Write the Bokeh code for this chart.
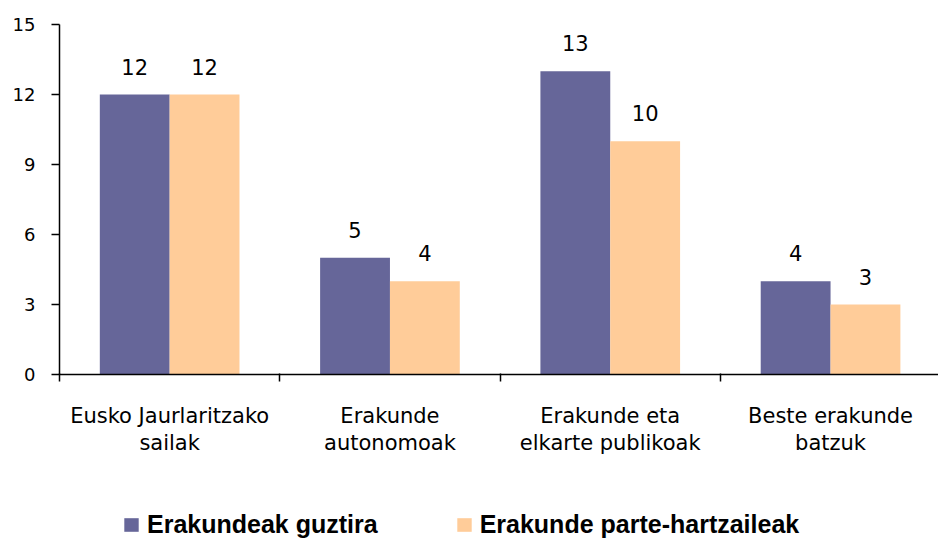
from bokeh.plotting import figure
from bokeh.models import (Range1d, FixedTicker, LinearAxis, Legend, LegendItem,
                          ColumnDataSource)
from bokeh.layouts import column
from bokeh.core.properties import value
from bokeh.embed import file_html
from bokeh.resources import INLINE

categories_line1 = ["Eusko Jaurlaritzako", "Erakunde", "Erakunde eta", "Beste erakunde"]
categories_line2 = ["sailak", "autonomoak", "elkarte publikoak", "batzuk"]
series_names = ["Erakundeak guztira", "Erakunde parte-hartzaileak"]
total = [12, 5, 13, 4]
participating = [12, 4, 10, 3]
y_ticks = [0, 3, 6, 9, 12, 15]

COL1 = "#666699"
COL2 = "#FFCC99"
LABEL_FONT = "DejaVu Sans"

n = len(categories_line1)
centers = [i + 0.5 for i in range(n)]
bw = 0.317

p = figure(frame_width=879, frame_height=350, output_backend="svg", toolbar_location=None,
           x_range=Range1d(0, 3.99), y_range=Range1d(0, 15),
           min_border_left=59, min_border_top=24, min_border_right=0, min_border_bottom=100,
           x_axis_location=None, y_axis_location=None)
p.outline_line_color = None
p.xgrid.visible = False
p.ygrid.visible = False
p.background_fill_color = "white"
p.border_fill_color = "white"

src1 = ColumnDataSource(dict(x=[c - bw / 2 for c in centers], top=total,
                             lab=[str(v) for v in total]))
src2 = ColumnDataSource(dict(x=[c + bw / 2 for c in centers], top=participating,
                             lab=[str(v) for v in participating]))

r1 = p.vbar(x="x", top="top", width=bw, source=src1, fill_color=COL1, line_color=None)
r2 = p.vbar(x="x", top="top", width=bw, source=src2, fill_color=COL2, line_color=None)

for s in (src1, src2):
    p.text(x="x", y="top", text="lab", source=s, text_align="center",
           text_baseline="alphabetic", y_offset=-28, text_font=value(LABEL_FONT),
           text_font_size="21px", text_color="black")

# y axis
ya = LinearAxis(ticker=FixedTicker(ticks=y_ticks, minor_ticks=[]))
ya.axis_line_width = 1.5
ya.axis_line_color = "black"
ya.major_tick_out = 8
ya.major_tick_in = 0
ya.major_tick_line_width = 1.5
ya.major_label_standoff = 16
ya.major_label_text_font = LABEL_FONT
ya.major_label_text_font_size = "18px"
ya.major_label_text_color = "black"
p.add_layout(ya, "left")

# x axis: line 1 labels, boundary ticks as minor ticks
xa = LinearAxis(ticker=FixedTicker(ticks=centers, minor_ticks=[0, 1, 2, 3, 4]))
xa.major_label_overrides = {c: t for c, t in zip(centers, categories_line1)}
xa.axis_line_width = 1.5
xa.axis_line_color = "black"
xa.major_tick_out = 0
xa.major_tick_in = 0
xa.minor_tick_out = 7
xa.minor_tick_in = 1
xa.minor_tick_line_width = 1.5
xa.minor_tick_line_color = "black"
xa.major_label_standoff = 22
xa.major_label_text_font = LABEL_FONT
xa.major_label_text_font_size = "21px"
xa.major_label_text_color = "black"
p.add_layout(xa, "below")

# second line of category labels
xa2 = LinearAxis(ticker=FixedTicker(ticks=centers, minor_ticks=[]))
xa2.major_label_overrides = {c: t for c, t in zip(centers, categories_line2)}
xa2.axis_line_color = None
xa2.major_tick_line_color = None
xa2.major_tick_out = 0
xa2.major_tick_in = 0
xa2.major_label_standoff = 0
xa2.major_label_text_font = LABEL_FONT
xa2.major_label_text_font_size = "21px"
xa2.major_label_text_color = "black"
p.add_layout(xa2, "below")

# legend strip (separate figure so the legend is not clipped)
q = figure(width=938, height=66, output_backend="svg", toolbar_location=None,
           x_range=Range1d(0, 1), y_range=Range1d(0, 1),
           min_border_left=0, min_border_right=0, min_border_top=0, min_border_bottom=0,
           x_axis_location=None, y_axis_location=None)
q.outline_line_color = None
q.xgrid.visible = False
q.ygrid.visible = False
off = dict(x=[10], top=[1])  # lies outside the strip's ranges; only the legend shows
l1 = q.vbar(x="x", top="top", width=0.1, source=ColumnDataSource(off),
            fill_color=COL1, line_color=None)
l2 = q.vbar(x="x", top="top", width=0.1, source=ColumnDataSource(off),
            fill_color=COL2, line_color=None)

legend = Legend(items=[LegendItem(label=series_names[0], renderers=[l1]),
                       LegendItem(label=series_names[1], renderers=[l2])],
                orientation="horizontal", location=(63, 1))
legend.label_text_font = "Liberation Sans"
legend.label_text_font_style = "bold"
legend.label_text_font_size = "25px"
legend.label_text_color = "black"
legend.glyph_width = 18
legend.glyph_height = 17
legend.label_standoff = 7
legend.spacing = 77
legend.padding = 0
legend.margin = 0
legend.border_line_color = None
legend.background_fill_alpha = 0
legend.label_height = 20
q.add_layout(legend, "center")

layout = column(p, q, spacing=0)
open("out.html", "w").write(file_html(layout, INLINE))
